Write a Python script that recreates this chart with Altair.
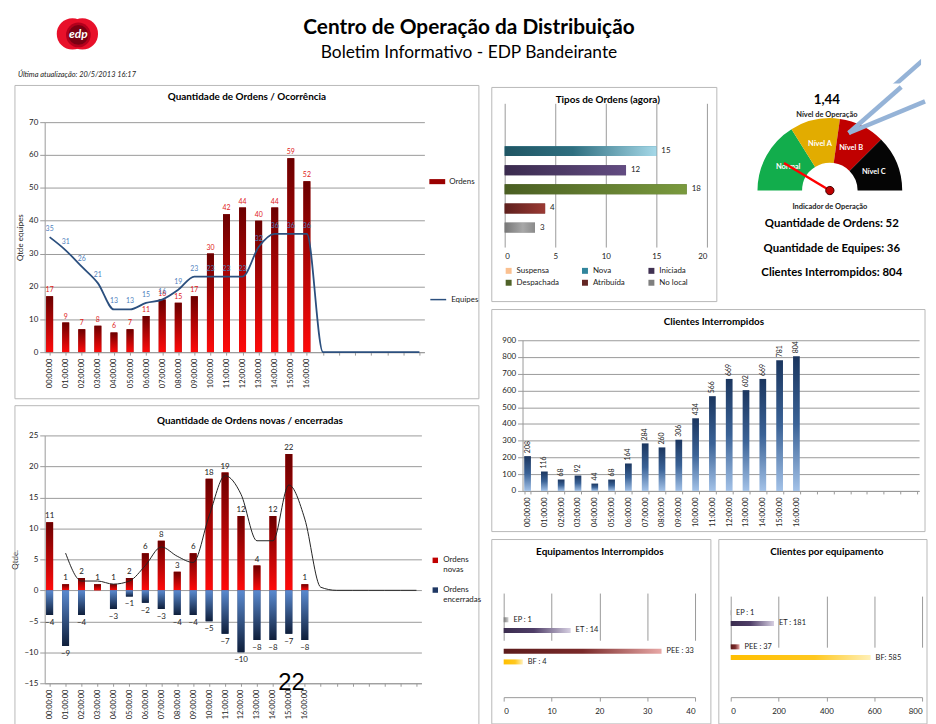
import math
import json
import altair as alt
import pandas as pd

FONT = "Lato"

# ---------------- data ----------------
hours = list(range(24))
hour_labels = ["00:00:00", "01:00:00", "02:00:00", "03:00:00", "04:00:00", "05:00:00",
               "06:00:00", "07:00:00", "08:00:00", "09:00:00", "10:00:00", "11:00:00",
               "12:00:00", "13:00:00", "14:00:00", "15:00:00", "16:00:00"]
ordens = [17, 9, 7, 8, 6, 7, 11, 16, 15, 17, 30, 42, 44, 40, 44, 59, 52]
equipes = [35, 31, 26, 21, 13, 13, 15, 16, 19, 23, 23, 23, 23, 32, 36, 36, 36, 0, 0, 0, 0, 0, 0, 0]
novas = [11, 1, 2, 1, 1, 2, 6, 8, 3, 6, 18, 19, 12, 4, 12, 22, 1]
encerradas = [-4, -9, -4, 0, -3, -1, -2, -3, -4, -4, -5, -7, -10, -8, -8, -7, -8]
tendencia = [None, 6, 1.5, 1.5, 1, 1.5, 4, 7, 5.5, 4.5, 12, 18.5, 15.5, 8, 8, 17, 11.5, 0.5, 0, 0, 0, 0, 0, 0]
tipos = ["Suspensa", "Nova", "Iniciada", "Despachada", "Atribuída", "No local"]
tipos_vals = [0, 15, 12, 18, 4, 3]
clientes = [208, 116, 68, 92, 44, 68, 164, 284, 260, 306, 434, 566, 669, 602, 669, 781, 804]
equip_nomes = ["EP", "ET", "PEE", "BF"]
equip_grupos = ["g1", "g1", "g2", "g2"]
equip_posicoes = ["a", "b", "a", "b"]
equip_vals = [1, 14, 33, 4]
equip_prefixos = ["EP : ", "ET : ", "PEE : ", "BF : "]
cpe_vals = [1, 181, 37, 585]
cpe_prefixos = ["EP : ", "ET : ", "PEE : ", "BF: "]
niveis = ["Normal", "Nível A", "Nível B", "Nível C"]
niveis_graus = [58, 40, 37, 45]
nivel_valor = "1,44"
ponteiro_graus = [31]
resumo_rotulos = ["Quantidade de Ordens:", "Quantidade de Equipes:", "Clientes Interrompidos:"]
resumo_valores = [52, 36, 804]

# ---------------- helpers ----------------
hour_expr = f"datum.value < {len(hour_labels)} ? {json.dumps(hour_labels)}[datum.value] : ''"
GRID = "#9a9a9a"
FRAME = "#b8b8b8"
CALLOUT = "#95b3d7"


def vgrad(stops):
    return {"gradient": "linear", "x1": 0, "y1": 0, "x2": 0, "y2": 1,
            "stops": [{"offset": o, "color": c} for o, c in stops]}


def hgrad(stops):
    return {"gradient": "linear", "x1": 0, "y1": 0, "x2": 1, "y2": 0,
            "stops": [{"offset": o, "color": c} for o, c in stops]}


one = pd.DataFrame({"k": [0]})


def frame(x0, y0, x1, y1, stroke=FRAME):
    return alt.Chart(one).mark_rect(fill="transparent", stroke=stroke, strokeWidth=1).encode(
        x=alt.value(x0), x2=alt.value(x1), y=alt.value(y0), y2=alt.value(y1))


def label(txt, x, y, size=8, weight="normal", color="#000", align="center", style="normal", font=FONT):
    return alt.Chart(one).mark_text(fontSize=size, fontWeight=weight, color=color, align=align,
                                    baseline="middle", font=font, fontStyle=style).encode(
        x=alt.value(x), y=alt.value(y), text=alt.value(txt))


def ttl(txt, x, y):
    return label(txt, x, y, size=10, weight="bold")


def seg(xa, ya, xb, yb, clip=False):
    return alt.Chart(one).mark_rule(color=CALLOUT, strokeWidth=4.5, clip=clip).encode(
        x=alt.value(xa), y=alt.value(ya), x2=alt.value(xb), y2=alt.value(yb))


def spacer():
    return alt.Chart(one).mark_rect(opacity=0).encode(
        x=alt.value(0), x2=alt.value(1), y=alt.value(0), y2=alt.value(1)).properties(width=1, height=1)


def indep(c):
    return c.resolve_scale(color="independent", stroke="independent").resolve_legend(
        color="independent", stroke="independent")


red_grad = vgrad([(0, "#6a0000"), (1, "#ff0a0a")])

# ---------------- header (origin = left plot edge of first chart) ----------------
header = alt.layer(
    alt.Chart(one).mark_point(shape="circle", filled=True, size=1000, color="#e8102a", opacity=1).encode(
        x=alt.value(28), y=alt.value(23)),
    alt.Chart(one).mark_point(shape="circle", filled=True, size=1000, color="#e8102a", opacity=1).encode(
        x=alt.value(38), y=alt.value(23)),
    alt.Chart(one).mark_point(shape="circle", filled=True, size=620, color="#b3001c", opacity=1).encode(
        x=alt.value(34), y=alt.value(24)),
    alt.Chart(one).mark_point(shape="circle", filled=True, size=400, color="#7a0012", opacity=1).encode(
        x=alt.value(34), y=alt.value(24)),
    label("edp", 34, 23, size=12, weight="bold", color="white", style="italic"),
    label("Centro de Operação da Distribuição", 428, 17, size=21, weight="bold"),
    label("Boletim Informativo - EDP Bandeirante", 428, 42, size=17.5),
    label("Última atualização:   20/5/2013 16:17", -27, 64, size=7.5, align="left", style="italic", color="#222"),
    seg(891, 45, 806, 120, clip=True),
).properties(width=884, height=73)

# ---------------- chart 1 ----------------
df_ord = pd.DataFrame({"hora": list(range(len(ordens))), "valor": ordens, "sb": "Ordens"})
df_eq = pd.DataFrame({"hora": hours, "valor": equipes, "sl": "Equipes"})
df_eq_lbl = df_eq.iloc[:len(ordens)]

x1 = alt.X("hora:Q", scale=alt.Scale(domain=[0, 23], nice=False, zero=False),
           axis=alt.Axis(values=hours, labelExpr=hour_expr, labelAngle=270, title=None, grid=False,
                         tickSize=3, labelFontSize=7.5, labelPadding=3))
y1 = alt.Y("valor:Q", scale=alt.Scale(domain=[0, 70]),
           axis=alt.Axis(values=list(range(0, 71, 10)), title="Qtde equipes", titleFontSize=8,
                         titleFontWeight="normal", grid=True))

c1 = alt.layer(
    frame(-30, -37, 438, 279),
    ttl("Quantidade de Ordens / Ocorrência", 204, -25),
    alt.Chart(df_ord).mark_bar(width=7, orient="vertical", clip=True).encode(
        x=x1, y=y1,
        color=alt.Color("sb:N", scale=alt.Scale(domain=["Ordens"], range=["#9a0000"]),
                        legend=alt.Legend(title=None, orient="none", legendX=388, legendY=52,
                                          symbolType="M-1,-0.32H1V0.32H-1Z", symbolSize=256,
                                          labelFontSize=8, symbolStrokeWidth=0))),
    alt.Chart(df_ord).mark_bar(width=7, orient="vertical", clip=True, color=red_grad).encode(x=x1, y=y1),
    alt.Chart(df_eq).mark_line(interpolate="monotone", strokeWidth=1.8).encode(
        x=x1, y=y1,
        stroke=alt.Stroke("sl:N", scale=alt.Scale(domain=["Equipes"], range=["#2b4f7e"]),
                          legend=alt.Legend(title=None, orient="none", legendX=388, legendY=170,
                                            symbolType="stroke", symbolSize=256, symbolStrokeWidth=1.5,
                                            labelFontSize=8))),
    alt.Chart(df_ord).mark_text(dy=-6, fontSize=7, color="#e01818", font=FONT).encode(
        x=x1, y=y1, text="valor:Q"),
    alt.Chart(df_eq_lbl).mark_text(dy=-8, fontSize=7, color="#4f81bd", font=FONT).encode(
        x=x1, y=y1, text="valor:Q"),
).properties(width=383, height=232)

# ---------------- chart 2 ----------------
df_nov = pd.DataFrame({"hora": list(range(len(novas))), "valor": novas, "serie": "Ordens novas"})
df_enc = pd.DataFrame({"hora": list(range(len(encerradas))), "valor": encerradas, "serie": "Ordens encerradas"})
df_both = pd.concat([df_nov, df_enc], ignore_index=True)
df_tend = pd.DataFrame({"hora": hours, "valor": tendencia})

x2 = alt.X("hora:Q", scale=alt.Scale(domain=[0, 23], nice=False, zero=False),
           axis=alt.Axis(values=hours, labelExpr=hour_expr, labelAngle=270, title=None, grid=False,
                         tickSize=3, labelFontSize=7.5, labelPadding=3))
y2 = alt.Y("valor:Q", scale=alt.Scale(domain=[-15, 25]), stack=None,
           axis=alt.Axis(values=list(range(-15, 26, 5)), title="Qtde.", titleFontSize=8,
                         titleFontWeight="normal", grid=True))

c2 = alt.layer(
    frame(-30, -30, 438, 293),
    ttl("Quantidade de Ordens novas / encerradas", 207, -15),
    alt.Chart(df_both).mark_bar(width=7, orient="vertical", clip=True).encode(
        x=x2, y=y2,
        color=alt.Color("serie:N", scale=alt.Scale(domain=["Ordens novas", "Ordens encerradas"],
                                                   range=["#c00000", "#1f3864"]),
                        legend=alt.Legend(title=None, orient="none", legendX=390, legendY=122,
                                          symbolType="square", symbolSize=30, labelFontSize=8,
                                          labelExpr="split(datum.label, ' ')", rowPadding=12))),
    alt.Chart(df_nov).mark_bar(width=7, orient="vertical", clip=True, color=red_grad).encode(x=x2, y=y2),
    alt.Chart(df_enc).mark_bar(width=7, orient="vertical", clip=True,
                               color=vgrad([(0, "#5a8ad0"), (1, "#0f1f3b")])).encode(x=x2, y=y2),
    alt.Chart(df_tend).mark_line(interpolate="monotone", strokeWidth=1, color="#222").encode(x=x2, y=y2),
    alt.Chart(df_nov).mark_text(dy=-6, fontSize=8, color="#222", font=FONT).encode(
        x=x2, y=y2, text="valor:Q"),
    alt.Chart(df_enc).transform_filter("datum.valor != 0").mark_text(dy=8, fontSize=8, color="#222",
                                                                      font=FONT).encode(
        x=x2, y=y2, text="valor:Q"),
    label("22", 249, 250, size=24, font="Liberation Sans"),
).properties(width=380, height=250)

# ---------------- tipos de ordens ----------------
df_t = pd.DataFrame({"tipo": tipos, "valor": tipos_vals})
tipo_solid = ["#fac090", "#31859c", "#403152", "#4f6228", "#632523", "#7f7f7f"]
tipo_grads = [
    [(0, "#f79646"), (1, "#fcd5b5")],
    [(0, "#1f5563"), (0.45, "#2f6f80"), (1, "#a5d8e8")],
    [(0, "#3a2b4e"), (1, "#634c82")],
    [(0, "#4a5e22"), (1, "#7a9a3e")],
    [(0, "#5e1f1c"), (1, "#9b3a34")],
    [(0, "#777777"), (0.6, "#a8a8a8"), (1, "#8a8a8a")],
]
xt = alt.X("valor:Q", scale=alt.Scale(domain=[0, 20]),
           axis=alt.Axis(values=[0, 5, 10, 15, 20], grid=True, title=None, domain=False, ticks=False,
                         labelPadding=6))
yt = alt.Y("tipo:N", sort=tipos, scale=alt.Scale(domain=tipos, paddingInner=0.48, paddingOuter=1.0, align=0.62),
           axis=None)
t_layers = [
    frame(-13, -16, 214, 200),
    alt.Chart(df_t).mark_bar().encode(
        x=xt, y=yt,
        color=alt.Color("tipo:N", sort=tipos, scale=alt.Scale(domain=tipos, range=tipo_solid),
                        legend=alt.Legend(title=None, orient="bottom", direction="horizontal", columns=3,
                                          symbolType="square", symbolSize=36, labelFontSize=8,
                                          columnPadding=22, rowPadding=4, offset=6))),
]
for t, g in zip(tipos, tipo_grads):
    t_layers.append(alt.Chart(df_t).transform_filter(alt.datum.tipo == t).mark_bar(color=hgrad(g)).encode(
        x=xt, y=yt))
t_layers.append(alt.Chart(df_t).transform_filter("datum.valor > 0").mark_text(
    align="left", dx=5, fontSize=8, font=FONT, color="#222").encode(x=xt, y=yt, text="valor:Q"))
t_layers.append(ttl("Tipos de Ordens (agora)", 104, -3))
tipos_chart = alt.layer(*t_layers).properties(width=204, height=145)

# ---------------- gauge (origin = top-right corner of the Tipos panel) ----------------
df_g = pd.DataFrame({"nivel": niveis, "graus": niveis_graus, "ordem": list(range(len(niveis)))})
nivel_cores = ["#12ad4c", "#e2ac00", "#c00000", "#050505"]
theta_g = alt.Theta("graus:Q", stack=True, scale=alt.Scale(domain=[0, 180], range=[-math.pi / 2, math.pi / 2]))
CX, CY, NEEDLE = 113, 88, 54
df_p = pd.DataFrame({"graus": ponteiro_graus})
g_layers = [
    alt.Chart(df_g).mark_arc(outerRadius=73, innerRadius=28).encode(
        theta=theta_g, order=alt.Order("ordem:Q"),
        color=alt.Color("nivel:N", scale=alt.Scale(domain=niveis, range=nivel_cores), legend=None),
        x=alt.value(CX), y=alt.value(CY)),
    alt.Chart(df_g).mark_text(radius=48, fontSize=7.5, fontWeight="bold", color="white", font=FONT).encode(
        theta=theta_g, order=alt.Order("ordem:Q"), text="nivel:N", x=alt.value(CX), y=alt.value(CY)),
    alt.Chart(df_p).transform_calculate(
        x0=f"{CX}", y0=f"{CY}",
        x1=f"{CX} - {NEEDLE} * cos(datum.graus * PI / 180)",
        y1=f"{CY} - {NEEDLE} * sin(datum.graus * PI / 180)",
    ).mark_rule(color="#ff0000", strokeWidth=2.5).encode(
        x=alt.X("x0:Q", scale=None, axis=None), y=alt.Y("y0:Q", scale=None, axis=None),
        x2="x1:Q", y2="y1:Q"),
    alt.Chart(one).mark_point(shape="circle", filled=True, size=70, color="#c00000", stroke="#400000",
                              strokeWidth=1, opacity=1).encode(x=alt.value(CX), y=alt.value(CY)),
    seg(185, -16.5, 132, 30),
    seg(209, -2, 132, 30),
    label(nivel_valor, 110, -3, size=13.5, weight="bold"),
    label("Nível de Operação", 110, 12, size=7.5, weight="bold", color="#222"),
    label("Indicador de Operação", 113, 105, size=7.5, weight="bold", color="#222"),
]
for i, (r, v) in enumerate(zip(resumo_rotulos, resumo_valores)):
    g_layers.append(label(f"{r} {v}", 115, 122 + i * 24.5, size=11.5, weight="bold"))
gauge = alt.layer(*g_layers).properties(width=209, height=100)

# ---------------- clientes interrompidos ----------------
df_c = pd.DataFrame({"hora": list(range(len(clientes))), "valor": clientes})
xc = alt.X("hora:O", scale=alt.Scale(domain=hours, paddingInner=0.6, paddingOuter=0.1),
           axis=alt.Axis(labelExpr=hour_expr, labelAngle=270, title=None, grid=False, tickBand="extent",
                         tickSize=3, labelFontSize=7.5, labelPadding=3))
yc = alt.Y("valor:Q", scale=alt.Scale(domain=[0, 900]),
           axis=alt.Axis(values=list(range(0, 901, 100)), title=None, grid=True))
clientes_chart = alt.layer(
    frame(-31, -31, 406, 193),
    ttl("Clientes Interrompidos", 193, -18),
    alt.Chart(df_c).mark_bar(color=vgrad([(0, "#1b365f"), (0.5, "#3a6296"), (1, "#a3c2e8")])).encode(x=xc, y=yc),
    alt.Chart(df_c).mark_text(angle=270, align="left", baseline="middle", dx=3, fontSize=7, font=FONT,
                              color="#222").encode(x=xc, y=yc, text="valor:Q"),
).properties(width=400, height=152)


# ---------------- equipamentos ----------------
def equip_chart(vals, prefixos, dom, step, grads, title, band_range, fr):
    df = pd.DataFrame({"nome": equip_nomes, "grupo": equip_grupos, "pos": equip_posicoes, "valor": vals,
                       "rotulo": [f"{p}{v}" for p, v in zip(prefixos, vals)]})
    xe = alt.X("valor:Q", scale=alt.Scale(domain=[0, dom]),
               axis=alt.Axis(values=list(range(0, dom + 1, step)), grid=True, title=None, tickSize=4,
                             labelPadding=6))
    ye = alt.Y("grupo:N", scale=alt.Scale(domain=["g1", "g2"], paddingInner=0.5, paddingOuter=0,
                                          range=band_range),
               axis=None)
    yo = alt.YOffset("pos:N", scale=alt.Scale(domain=["a", "b"], paddingInner=0.53, paddingOuter=0))
    layers = [frame(*fr), ttl(title, 97, -8)]
    for n, g in zip(equip_nomes, grads):
        layers.append(alt.Chart(df).transform_filter(alt.datum.nome == n).mark_bar(color=hgrad(g)).encode(
            x=xe, y=ye, yOffset=yo))
    layers.append(alt.Chart(df).mark_text(align="left", dx=5, fontSize=7.5, font=FONT, color="#222").encode(
        x=xe, y=ye, yOffset=yo, text="rotulo:N"))
    return alt.layer(*layers).properties(width=193, height=138)


equip_grads = [
    [(0, "#7a7a7a"), (1, "#d0d0d0")],
    [(0, "#3a2c4e"), (0.45, "#4f3e68"), (1, "#d6cfe2")],
    [(0, "#5c1b1b"), (0.5, "#7a2a2a"), (1, "#e8a8a6")],
    [(0, "#ffbf00"), (0.6, "#ffc820"), (1, "#fff0b8")],
]
equip = equip_chart(equip_vals, equip_prefixos, 40, 10, equip_grads, "Equipamentos Interrompidos",
                    [57.4, 105.0], (-12, -21, 209, 165))
cpe = equip_chart(cpe_vals, cpe_prefixos, 800, 200, equip_grads, "Clientes por equipamento",
                  [50.4, 101.9], (-12, -21, 198, 165))

# ---------------- layout ----------------
leftcol = indep(alt.vconcat(spacer(), indep(alt.vconcat(c1, c2, spacing=5)), spacing=0))
row1 = indep(alt.hconcat(spacer(), tipos_chart, gauge, spacing=0))
row2 = indep(alt.hconcat(spacer(), clientes_chart, spacing=0))
row3 = indep(alt.hconcat(spacer(), indep(alt.hconcat(equip, cpe, spacing=6)), spacing=0))
inner = indep(alt.vconcat(row1, row2, row3, spacing=6))
rightcol = indep(alt.vconcat(spacer(), inner, spacing=0))
body = indep(alt.hconcat(leftcol, rightcol, spacing=8))
chart = indep(alt.vconcat(header, body, spacing=0)).properties(
    padding={"left": 4, "top": 0, "right": 0, "bottom": 0}, background="white"
).configure_view(stroke=None).configure_axis(
    labelFont=FONT, titleFont=FONT, labelFontSize=8, labelColor="#222", titleColor="#222",
    gridColor=GRID, domainColor=GRID, tickColor=GRID, gridWidth=1
).configure_legend(labelFont=FONT, labelColor="#222").configure_text(font=FONT)

chart.save("out.html", embed_options={"renderer": "svg", "actions": False})
